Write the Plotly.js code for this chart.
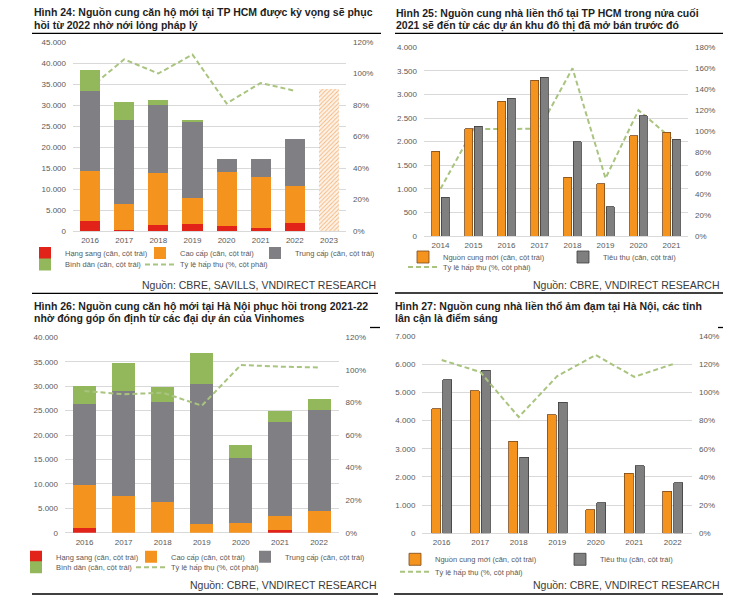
<!DOCTYPE html>
<html>
<head>
<meta charset="utf-8">
<script src="https://cdn.plot.ly/plotly-3.0.1.min.js"></script>
<style>html,body{margin:0;padding:0;background:#fff;}#chart{width:742px;height:601px;}</style>
</head>
<body>
<div id="chart"></div>
<script>
// ---------- DATA ----------
// Hình 24 – HCM apartments
const years24 = ['2016','2017','2018','2019','2020','2021','2022'];
const axisYears24 = ['2016','2017','2018','2019','2020','2021','2022','2023'];
const hangSang24 = [2500, 300, 1400, 1750, 1100, 600, 1900];
const caoCap24 = [11800, 6100, 12500, 6200, 13050, 12300, 8800];
const trungCap24 = [19100, 20000, 16100, 17950, 3050, 4300, 11100];
const binhDan24 = [4900, 4400, 1100, 500, 0, 0, 0];
const hapThu24 = [91, 109, 100, 112, 81, 94, 89];
const forecastYears24 = ['2023'];
const forecast24 = [33900];

// Hình 25 – HCM landed houses
const years25 = ['2014','2015','2016','2017','2018','2019','2020','2021'];
const supply25 = [1800, 2270, 2860, 3300, 1245, 1110, 2120, 2200];
const sold25 = [820, 2330, 2920, 3370, 2000, 615, 2545, 2055];
const hapThu25 = [45, 102, 102, 102.5, 160, 55, 120, 93];

// Hình 26 – Hanoi apartments
const years26 = ['2016','2017','2018','2019','2020','2021','2022'];
const hangSang26 = [900, 0, 0, 0, 0, 500, 0];
const caoCap26 = [8800, 7500, 6200, 1800, 2000, 2900, 4500];
const trungCap26 = [16600, 21500, 20500, 28700, 13200, 19300, 20600];
const binhDan26 = [3800, 5700, 3100, 6200, 2700, 2300, 2200];
const hapThu26 = [87, 85, 86, 78, 103, 102, 101.5];

// Hình 27 – Hanoi landed houses
const years27 = ['2016','2017','2018','2019','2020','2021','2022'];
const supply27 = [4420, 5060, 3260, 4200, 840, 2130, 1490];
const sold27 = [5440, 5790, 2700, 4650, 1080, 2390, 1790];
const hapThu27 = [123, 114.5, 82.5, 111.5, 126.5, 111, 120];

// ---------- STYLE ----------
const W = 742, H = 601;
const px = v => v / W;
const py = v => 1 - v / H;
const FONT = 'Liberation Sans, Arial, sans-serif';
const C_RED = '#e2231a', C_ORANGE = '#f5931f', C_GRAY = '#7f7f84', C_GREEN = '#93b85c', C_LINE = '#a9c47f';
const tickFont = {family: FONT, size: 8, color: '#595959'};
const lineStyle = {color: C_LINE, width: 2, dash: '5px,3px'};

const N = {
  hs: 'Hạng sang (căn, cột trái)',
  cc: 'Cao cấp (căn, cột trái)',
  tc: 'Trung cấp (căn, cột trái)',
  bd: 'Bình dân (căn, cột trái)',
  rate: 'Tỷ lệ hấp thụ (%, cột phải)',
  supply: 'Nguồn cung mới (căn, cột trái)',
  sold: 'Tiêu thụ (căn, cột trái)'
};

const traces = [];
// Panel 1 (line on y underneath, bars on overlay y2)
traces.push({type:'scatter', mode:'lines', x: years24, y: hapThu24, xaxis:'x', yaxis:'y', name:N.rate, line:lineStyle, legend:'legend5'});
traces.push({type:'bar', x: years24, y: hangSang24, xaxis:'x', yaxis:'y2', name:N.hs, marker:{color:C_RED}, legend:'legend'});
traces.push({type:'bar', x: years24, y: caoCap24, xaxis:'x', yaxis:'y2', name:N.cc, marker:{color:C_ORANGE}, legend:'legend2'});
traces.push({type:'bar', x: years24, y: trungCap24, xaxis:'x', yaxis:'y2', name:N.tc, marker:{color:C_GRAY}, legend:'legend3'});
traces.push({type:'bar', x: years24, y: binhDan24, xaxis:'x', yaxis:'y2', name:N.bd, marker:{color:C_GREEN}, legend:'legend4'});
traces.push({type:'bar', x: forecastYears24, y: forecast24, xaxis:'x', yaxis:'y2', name:'2023', showlegend:false,
  marker:{color:'#f9c99c', line:{width:0}, pattern:{shape:'/', fgcolor:'#f6b57c', bgcolor:'#fdf4ea', size:3, solidity:0.3}}});

// Panel 2
const gw = 0.235;
traces.push({type:'scatter', mode:'lines', x: years25, y: hapThu25, xaxis:'x2', yaxis:'y3', name:N.rate, line:lineStyle, legend:'legend8'});
traces.push({type:'bar', x: years25, y: supply25, base:0, width:gw, offset:-0.262, xaxis:'x2', yaxis:'y4', name:N.supply,
  marker:{color:C_ORANGE, line:{color:'#7a4a1c', width:0.8}}, legend:'legend6'});
traces.push({type:'bar', x: years25, y: sold25, base:0, width:gw, offset:0.027, xaxis:'x2', yaxis:'y4', name:N.sold,
  marker:{color:'#7f7f7f', line:{color:'#3f3f3f', width:0.8}}, legend:'legend7'});

// Panel 3 (bars on y5, line on overlay y6 on top)
traces.push({type:'bar', x: years26, y: hangSang26, xaxis:'x3', yaxis:'y5', name:N.hs, marker:{color:C_RED}, legend:'legend9'});
traces.push({type:'bar', x: years26, y: caoCap26, xaxis:'x3', yaxis:'y5', name:N.cc, marker:{color:C_ORANGE}, legend:'legend10'});
traces.push({type:'bar', x: years26, y: trungCap26, xaxis:'x3', yaxis:'y5', name:N.tc, marker:{color:C_GRAY}, legend:'legend11'});
traces.push({type:'bar', x: years26, y: binhDan26, xaxis:'x3', yaxis:'y5', name:N.bd, marker:{color:C_GREEN}, legend:'legend12'});
traces.push({type:'scatter', mode:'lines', x: years26, y: hapThu26, xaxis:'x3', yaxis:'y6', name:N.rate, line:lineStyle, legend:'legend13'});

// Panel 4
traces.push({type:'bar', x: years27, y: supply27, base:0, width:gw, offset:-0.262, xaxis:'x4', yaxis:'y7', name:N.supply,
  marker:{color:C_ORANGE, line:{color:'#7a4a1c', width:0.8}}, legend:'legend14'});
traces.push({type:'bar', x: years27, y: sold27, base:0, width:gw, offset:0.027, xaxis:'x4', yaxis:'y7', name:N.sold,
  marker:{color:'#7f7f7f', line:{color:'#3f3f3f', width:0.8}}, legend:'legend15'});
traces.push({type:'scatter', mode:'lines', x: years27, y: hapThu27, xaxis:'x4', yaxis:'y8', name:N.rate, line:lineStyle, legend:'legend16'});

// ---------- LAYOUT ----------
function xAx(x0, x1, anchor, cats) {
  return {domain:[px(x0), px(x1)], anchor:anchor, type:'category', categoryorder:'array', categoryarray:cats,
    ticks:'', showgrid:false, zeroline:false, showline:false, tickfont:tickFont, ticklabelstandoff:3, fixedrange:true};
}
function barAx(y0, y1, xa, range, dtick, overlay) {
  const a = {domain:[py(y0), py(y1)], anchor:xa, side:'left', range:range, dtick:dtick, tickformat:',',
    showgrid:true, gridcolor:'#d9d9d9', gridwidth:1, zeroline:true, zerolinecolor:'#d9d9d9', zerolinewidth:1,
    ticks:'', showline:false, tickfont:tickFont, ticklabelstandoff:6, fixedrange:true};
  if (overlay) a.overlaying = overlay;
  return a;
}
function rateAx(y0, y1, xa, range, overlay) {
  const a = {domain:[py(y0), py(y1)], anchor:xa, side:'right', range:range, dtick:20, ticksuffix:'%',
    showgrid:false, zeroline:false, ticks:'', showline:false, tickfont:tickFont, ticklabelstandoff:6, fixedrange:true};
  if (overlay) a.overlaying = overlay;
  return a;
}
// legend box placed so that its text starts at textX
function leg(textX, yPx) {
  return {x:px(textX - 40), y:py(yPx), xanchor:'left', yanchor:'middle', orientation:'h', bgcolor:'rgba(0,0,0,0)',
    font:{family:FONT, size:7.5, color:'#595959'}, traceorder:'normal', itemwidth:30};
}
function title(text, xPx, yPx) {
  return {text:text, xref:'paper', yref:'paper', x:px(xPx), y:py(yPx), xanchor:'left', yanchor:'middle', showarrow:false,
    font:{family:FONT, size:10.5, color:'#1e1e1e', weight:'bold'}};
}
function source(text, xPx, yPx) {
  return {text:text, xref:'paper', yref:'paper', x:px(xPx), y:py(yPx), xanchor:'right', yanchor:'middle', showarrow:false,
    font:{family:FONT, size:10.5, color:'#3a3a3a'}};
}
function hline(x0, x1, y) {
  return {type:'line', xref:'paper', yref:'paper', x0:px(x0), x1:px(x1), y0:py(y), y1:py(y), line:{color:'#000', width:1.3}};
}

const layout = {
  width:W, height:H, margin:{l:0, r:0, t:0, b:0}, paper_bgcolor:'#ffffff', plot_bgcolor:'rgba(0,0,0,0)',
  separators:',.', barmode:'stack', bargap:0.41, showlegend:true,
  font:{family:FONT, size:8, color:'#595959'},
  xaxis: xAx(73, 346, 'y', axisYears24),
  yaxis: rateAx(231, 42, 'x', [0,120]),
  yaxis2: barAx(231, 42, 'x', [0,45000], 5000, 'y'),
  xaxis2: xAx(424, 688, 'y3', years25),
  yaxis3: rateAx(236, 47.3, 'x2', [0,180]),
  yaxis4: barAx(236, 47.3, 'x2', [0,4000], 500, 'y3'),
  xaxis3: xAx(65, 338.6, 'y5', years26),
  yaxis5: barAx(532.7, 337.3, 'x3', [0,40000], 5000),
  yaxis6: rateAx(532.7, 337.3, 'x3', [0,120], 'y5'),
  xaxis4: xAx(422.4, 692, 'y7', years27),
  yaxis7: barAx(533.3, 336, 'x4', [0,7000], 1000),
  yaxis8: rateAx(533.3, 336, 'x4', [0,140], 'y7'),
  // panel 1 legend entries
  legend:   leg(65, 253),
  legend2:  leg(180, 253),
  legend3:  leg(295, 253),
  legend4:  leg(65, 264.5),
  legend5:  leg(180, 264.5),
  // panel 2
  legend6:  leg(443, 257),
  legend7:  leg(603, 257),
  legend8:  leg(443, 267),
  // panel 3
  legend9:  leg(56, 556.7),
  legend10: leg(171, 556.7),
  legend11: leg(285, 556.7),
  legend12: leg(56, 567.3),
  legend13: leg(171, 567.3),
  // panel 4
  legend14: leg(435, 559.3),
  legend15: leg(600, 559.3),
  legend16: leg(435, 571.7),
  annotations: [
    title('Hình 24: Nguồn cung căn hộ mới tại TP HCM được kỳ vọng sẽ phục', 32, 13),
    title('hồi từ 2022 nhờ nới lỏng pháp lý', 32, 25),
    title('Hình 25: Nguồn cung nhà liền thổ tại TP HCM trong nửa cuối', 394, 14),
    title('2021 sẽ đến từ các dự án khu đô thị đã mở bán trước đó', 394, 25.5),
    title('Hình 26: Nguồn cung căn hộ mới tại Hà Nội phục hồi trong 2021-22', 32, 306),
    title('nhờ đóng góp ổn định từ các đại dự án của Vinhomes', 32, 318),
    title('Hình 27: Nguồn cung nhà liền thổ ảm đạm tại Hà Nội, các tỉnh', 393, 306),
    title('lân cận là điểm sáng', 393, 318),
    source('Nguồn: CBRE, SAVILLS, VNDIRECT RESEARCH', 378, 285),
    source('Nguồn: CBRE, VNDIRECT RESEARCH', 722, 285),
    source('Nguồn: CBRE, VNDIRECT RESEARCH', 379, 585),
    source('Nguồn: CBRE, VNDIRECT RESEARCH', 722, 585)
  ],
  shapes: [
    hline(32, 381, 33.3), hline(32, 378, 293.3),
    hline(395, 723, 33.3), hline(395, 723, 293),
    hline(370, 380, 327.5), hline(32, 378, 594),
    hline(718, 723, 327.5), hline(394, 723, 594)
  ]
};

Plotly.newPlot('chart', traces, layout, {displayModeBar:false, staticPlot:true});
</script>
</body>
</html>
